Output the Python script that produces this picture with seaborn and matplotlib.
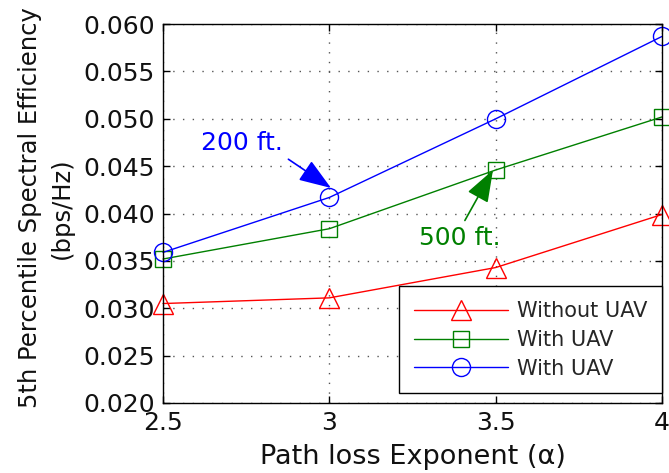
import pandas as pd
import matplotlib
matplotlib.use('Agg')
import matplotlib.pyplot as plt
import seaborn as sns

alpha = [2.5, 3.0, 3.5, 4.0]
without_uav = [0.0305, 0.0311, 0.0343, 0.0399]
with_uav_500 = [0.0352, 0.0384, 0.0446, 0.0502]
with_uav_200 = [0.0359, 0.0417, 0.0500, 0.0587]
yticks = [0.020, 0.025, 0.030, 0.035, 0.040, 0.045, 0.050, 0.055, 0.060]
xticks = [2.5, 3, 3.5, 4]
xtick_labels = ['2.5', '3', '3.5', '4']

df = pd.DataFrame({'alpha': alpha, 'without': without_uav,
                   'w500': with_uav_500, 'w200': with_uav_200})

sns.set_style('white')
plt.rcParams['font.family'] = ['DejaVu Sans']

fig = plt.figure(figsize=(6.69, 4.73), dpi=100)
ax = fig.add_axes([0.2437, 0.148, 0.7458, 0.801])

series = [('without', 'red', '^', 'Without UAV', 14),
          ('w500', 'green', 's', 'With UAV', 11),
          ('w200', 'blue', 'o', 'With UAV', 13)]
for col, color, mk, lab, ms in series:
    sns.lineplot(data=df, x='alpha', y=col, ax=ax, color=color, marker=mk,
                 markersize=ms, markerfacecolor='none', markeredgecolor=color,
                 markeredgewidth=1.0, linewidth=1.0, label=lab, clip_on=False)

ax.set_xlim(2.5, 4)
ax.set_ylim(0.020, 0.060)
ax.set_xticks(xticks)
ax.set_xticklabels(xtick_labels)
ax.set_yticks(yticks)
ax.set_yticklabels(['%.3f' % v for v in yticks])
ax.tick_params(axis='both', which='both', direction='in', length=5, width=1,
               labelsize=18, top=True, right=True, bottom=True, left=True,
               color='black', pad=6, labelcolor='#111111')
ax.grid(True, linestyle=(0, (1, 6)), color='#555555', linewidth=1.0)
for s in ax.spines.values():
    s.set_color('black')
    s.set_linewidth(1.0)

ax.set_xlabel('Path loss Exponent (\u03b1)', fontsize=19.5, labelpad=6,
              color='#111111')
ax.set_ylabel('5th Percentile Spectral Efficiency\n(bps/Hz)', fontsize=17.5,
              linespacing=1.45, color='#111111')
ax.yaxis.set_label_coords(-0.178, 0.515)

head = '-|>,head_length=1.0,head_width=0.36'
ax.annotate('200 ft.', xy=(3.005, 0.0427), xytext=(2.737, 0.0474),
            color='blue', fontsize=18, ha='center', va='center',
            arrowprops=dict(arrowstyle=head, color='blue', lw=1.2,
                            mutation_scale=20, shrinkA=2, shrinkB=0,
                            relpos=(1.0, 0.0)))
ax.annotate('500 ft.', xy=(3.492, 0.0446), xytext=(3.393, 0.0374),
            color='green', fontsize=18, ha='center', va='center',
            arrowprops=dict(arrowstyle=head, color='green', lw=1.2,
                            mutation_scale=20, shrinkA=2, shrinkB=0,
                            relpos=(0.52, 1.0)))

leg = ax.legend(loc='lower right', bbox_to_anchor=(1.0, 0.026), fontsize=15,
                handlelength=4.5, frameon=True, fancybox=False, framealpha=1,
                edgecolor='black', borderpad=0.7, labelspacing=0.42,
                handletextpad=0.45, borderaxespad=0)
leg.get_frame().set_linewidth(1.0)

fig.savefig('out.png', dpi=100)
